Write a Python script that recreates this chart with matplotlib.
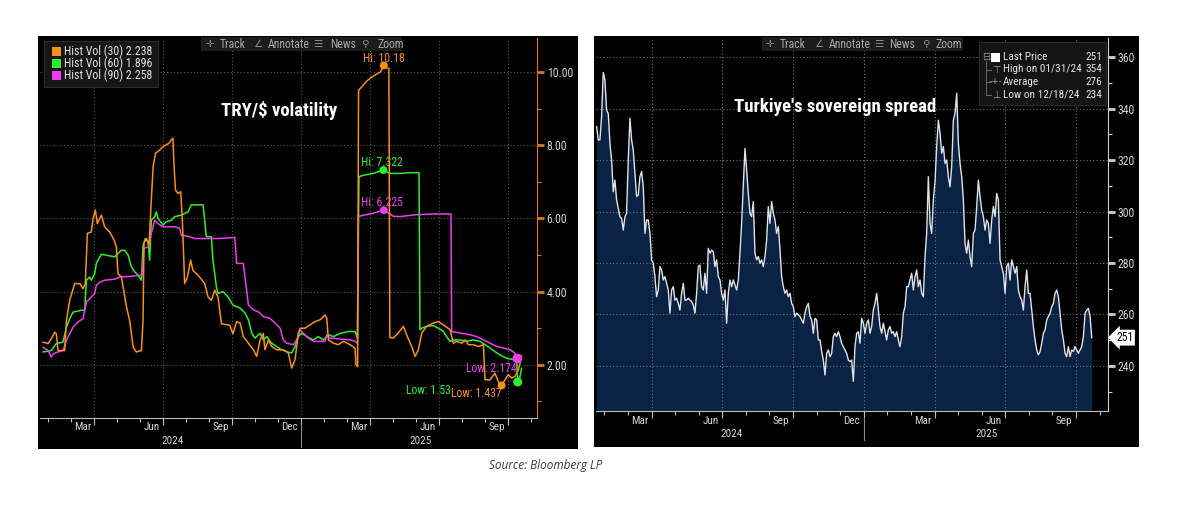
import numpy as np
import matplotlib
matplotlib.use("Agg")
import matplotlib.pyplot as plt
from matplotlib import font_manager
from matplotlib.patches import Rectangle
from matplotlib.lines import Line2D
from matplotlib.transforms import blended_transform_factory as blend

# ---- left chart: TRY/$ historical volatility (x = months since 1 Jan 2024) ----
vol30_t = [0.78, 1.00, 1.14, 1.29, 1.36, 1.43, 1.72, 1.80, 1.94, 2.16,
           2.38, 2.52, 2.62, 2.71, 2.88, 2.96, 3.06, 3.14, 3.32, 3.46,
           3.68, 3.87, 3.97, 4.04, 4.19, 4.41, 4.55, 4.70, 4.84, 5.06,
           5.13, 5.17, 5.28, 5.39, 5.49, 5.57, 5.67, 5.86, 6.00, 6.14,
           6.25, 6.36, 6.43, 6.48, 6.54, 6.65, 6.77, 6.84, 6.94, 7.06,
           7.20, 7.30, 7.45, 7.64, 7.81, 7.96, 8.10, 8.25, 8.39, 8.54,
           8.90, 9.04, 9.20, 9.35, 9.49, 9.71, 9.93, 10.07, 10.22, 10.36,
           10.43, 10.58, 10.72, 10.94, 11.23, 11.45, 11.59, 11.74, 11.88, 11.96,
           12.17, 12.39, 12.61, 12.83, 13.04, 13.12, 13.19, 13.41, 13.62, 13.84,
           14.13, 14.35, 14.39, 14.46, 14.50, 14.65, 14.85, 15.05, 15.25, 15.45,
           15.60, 15.72, 15.82, 15.86, 16.01, 16.23, 16.45, 16.59, 16.81, 16.96,
           17.10, 17.25, 17.46, 17.75, 17.97, 18.19, 18.48, 18.62, 18.77, 18.99,
           19.13, 19.28, 19.49, 19.71, 19.93, 20.00, 20.22, 20.43, 20.58, 20.72,
           20.87, 21.01, 21.16, 21.30, 21.45, 21.59]
vol30 = [2.62, 2.58, 2.71, 2.89, 2.85, 2.39, 2.39, 3.21, 3.76, 4.22,
         4.22, 4.08, 4.22, 5.59, 5.63, 6.00, 6.23, 5.86, 6.09, 5.77,
         5.63, 5.41, 5.22, 4.49, 4.40, 3.58, 3.21, 2.48, 2.35, 2.39,
         3.21, 5.32, 5.45, 5.27, 6.50, 7.42, 7.78, 7.87, 7.96, 8.01,
         8.05, 8.15, 8.19, 7.42, 6.78, 6.68, 6.73, 5.95, 4.22, 4.40,
         4.86, 4.58, 4.49, 4.36, 4.22, 3.85, 3.76, 4.04, 3.85, 3.12,
         3.08, 2.85, 3.18, 3.14, 2.77, 2.59, 2.41, 2.23, 2.68, 2.86,
         2.41, 2.68, 2.50, 2.41, 2.41, 2.32, 1.91, 2.14, 2.86, 3.00,
         3.00, 3.09, 3.18, 3.23, 3.36, 3.27, 2.68, 2.59, 2.55, 2.64,
         2.55, 2.45, 2.00, 1.95, 9.50, 9.60, 9.75, 9.85, 9.93, 10.00,
         10.18, 10.12, 10.10, 2.75, 2.73, 2.87, 3.05, 2.82, 2.50, 2.23,
         2.41, 2.87, 3.05, 3.14, 3.18, 3.09, 2.96, 2.59, 2.64, 2.59,
         2.68, 2.55, 2.55, 2.50, 2.55, 1.59, 1.59, 1.77, 1.54, 1.44,
         1.59, 1.73, 1.64, 1.68, 1.86, 2.24]

vol60_t = [0.78, 1.14, 1.36, 1.65, 1.80, 1.94, 2.09, 2.45, 2.59, 2.67,
           2.81, 2.88, 3.03, 3.10, 3.25, 3.32, 3.90, 4.04, 4.19, 4.33,
           4.48, 4.62, 4.77, 4.91, 5.06, 5.13, 5.23, 5.35, 5.42, 5.49,
           5.64, 5.71, 5.78, 6.00, 6.14, 6.36, 6.51, 6.80, 7.09, 7.23,
           7.52, 7.74, 7.81, 7.88, 8.10, 8.17, 8.32, 8.39, 8.61, 8.83,
           9.04, 9.35, 9.57, 9.71, 9.86, 10.00, 10.22, 10.36, 10.51, 10.72,
           10.94, 11.16, 11.38, 11.59, 11.74, 11.88, 12.03, 12.25, 12.54, 12.75,
           12.97, 13.19, 13.41, 13.70, 14.06, 14.35, 14.45, 14.52, 14.71, 15.14,
           15.58, 15.87, 16.30, 16.80, 17.13, 17.17, 17.25, 17.46, 17.75, 17.97,
           18.19, 18.33, 18.48, 18.70, 18.91, 19.20, 19.49, 19.78, 20.00, 20.22,
           20.43, 20.65, 20.94, 21.23, 21.38, 21.40, 21.42, 21.49, 21.59]
vol60 = [2.35, 2.39, 2.58, 2.62, 3.03, 3.26, 3.44, 3.49, 3.49, 4.31,
         4.40, 4.31, 4.49, 4.77, 4.95, 5.02, 4.95, 5.04, 5.13, 5.13,
         5.00, 4.68, 4.54, 4.45, 4.31, 5.27, 5.45, 5.36, 4.86, 5.95,
         6.05, 6.18, 6.00, 5.82, 5.91, 5.95, 6.05, 6.09, 6.18, 6.37,
         6.37, 6.37, 5.95, 5.50, 5.50, 4.86, 4.13, 3.95, 4.00, 3.85,
         3.63, 3.55, 3.41, 3.23, 2.86, 2.73, 2.86, 2.68, 2.77, 2.59,
         2.50, 2.41, 2.36, 2.32, 2.50, 2.77, 2.86, 2.77, 2.68, 2.77,
         2.68, 2.82, 2.77, 2.86, 2.91, 2.91, 2.73, 7.14, 7.18, 7.23,
         7.32, 7.23, 7.23, 7.25, 7.25, 2.96, 3.00, 3.05, 3.07, 3.00,
         2.91, 2.77, 2.64, 2.68, 2.68, 2.64, 2.68, 2.64, 2.55, 2.46,
         2.36, 2.27, 2.18, 2.14, 2.09, 1.80, 1.54, 1.59, 1.90]

vol90_t = [0.78, 1.00, 1.14, 1.22, 1.43, 1.65, 1.80, 1.94, 2.09, 2.30,
           2.52, 2.67, 2.74, 2.88, 3.03, 3.10, 3.25, 3.46, 3.90, 4.12,
           4.62, 5.09, 5.17, 5.35, 5.49, 5.64, 5.78, 6.00, 6.51, 6.72,
           6.80, 7.16, 7.38, 8.39, 9.12, 9.20, 9.49, 9.71, 9.93, 10.14,
           10.36, 10.65, 10.87, 11.09, 11.23, 11.38, 11.67, 11.81, 11.96, 12.10,
           12.32, 12.54, 13.04, 13.12, 13.26, 14.13, 14.35, 14.45, 14.49, 14.71,
           15.14, 15.58, 16.01, 16.30, 17.00, 17.80, 18.52, 18.55, 18.91, 19.35,
           19.64, 19.93, 20.22, 20.51, 20.80, 21.09, 21.30, 21.40, 21.52]
vol90 = [2.48, 2.39, 2.21, 2.30, 2.35, 2.39, 2.67, 2.85, 3.03, 3.17,
         3.26, 3.72, 3.76, 3.85, 3.95, 4.17, 4.26, 4.31, 4.34, 4.40,
         4.42, 4.45, 5.18, 5.22, 5.59, 5.95, 5.86, 5.77, 5.77, 5.73,
         5.54, 5.50, 5.45, 5.45, 5.48, 4.77, 4.77, 3.64, 3.50, 3.45,
         3.32, 3.27, 3.14, 3.00, 2.68, 2.59, 2.55, 2.68, 2.95, 2.86,
         2.73, 2.64, 2.64, 2.82, 2.73, 2.68, 2.64, 2.59, 6.05, 6.09,
         6.14, 6.23, 6.06, 6.05, 6.10, 6.12, 6.12, 2.91, 2.87, 2.82,
         2.77, 2.68, 2.59, 2.50, 2.46, 2.41, 2.32, 2.18, 2.26]

vol_labels = ['Hist Vol (30) 2.238', 'Hist Vol (60) 1.896', 'Hist Vol (90) 2.258']
hi_t = [15.60, 15.58, 15.60]
hi_v = [10.18, 7.322, 6.225]
lo_t = [20.72, 21.42, 21.40]
lo_v = [1.437, 1.53, 2.174]

# ---- right chart: Turkiye sovereign spread, bp, evenly spaced from late Jan 2024 ----
spread = [333.0, 327.8, 327.8, 336.8, 354.0, 351.0, 339.4, 338.0, 326.5, 320.0,
          307.7, 312.2, 304.5, 301.2, 298.0, 297.3, 292.8, 298.0, 299.3, 320.0,
          336.2, 327.8, 323.9, 314.8, 305.8, 306.4, 313.5, 315.5, 309.6, 291.5,
          296.7, 296.7, 291.5, 281.2, 279.9, 274.7, 266.9, 269.5, 278.6, 277.3,
          273.4, 274.7, 272.1, 269.5, 260.5, 269.5, 270.8, 265.6, 266.3, 264.3,
          261.7, 268.2, 272.1, 265.6, 265.6, 266.3, 265.6, 265.0, 263.7, 260.5,
          268.2, 278.6, 279.2, 270.8, 269.5, 276.0, 268.2, 285.7, 283.8, 285.0,
          284.4, 278.6, 281.2, 274.7, 273.4, 268.2, 265.6, 269.5, 256.6, 268.2,
          273.4, 270.8, 273.4, 271.5, 269.5, 273.4, 283.8, 295.4, 309.6, 324.5,
          316.1, 307.0, 299.3, 298.0, 303.8, 283.8, 281.2, 282.5, 279.9, 281.2,
          278.6, 282.5, 288.9, 301.9, 295.4, 303.8, 299.3, 296.7, 291.5, 294.1,
          285.0, 274.7, 270.8, 268.2, 269.5, 266.9, 268.2, 264.3, 263.0, 259.2,
          260.5, 259.8, 259.2, 257.9, 256.6, 260.5, 263.0, 264.3, 259.2, 257.9,
          252.7, 258.5, 257.9, 250.1, 250.1, 245.6, 242.3, 236.5, 244.9, 246.2,
          243.6, 244.9, 251.4, 252.7, 251.4, 253.3, 251.4, 248.8, 247.5, 246.2,
          244.9, 242.3, 241.7,
          242.3, 234.0, 247.5, 252.7, 253.3, 248.8, 258.5, 256.6, 252.7, 256.6,
          257.9, 252.7, 255.3, 261.7, 264.3, 268.2, 261.7, 255.3, 252.7, 256.6,
          253.3, 250.1, 254.0, 255.3, 252.7, 253.3, 251.4, 253.3, 250.1, 247.5,
          251.4, 260.5, 263.0, 270.8, 270.8, 273.4, 276.0, 269.5, 274.7, 277.3,
          270.8, 273.4, 268.2, 266.9, 282.5, 291.5, 313.5, 295.4, 291.5, 304.5,
          311.6, 325.2, 335.5, 330.4, 322.6, 325.2, 318.7, 320.0, 313.5, 309.6,
          317.4, 335.5, 338.1, 345.9, 326.5, 318.7, 313.5, 304.5, 287.6, 283.8,
          288.9, 282.5, 278.6, 291.5, 292.8, 301.9, 312.2, 305.8, 300.6, 298.0,
          292.8, 296.7, 295.4, 287.6, 296.7, 301.9, 298.0, 307.0, 304.5, 281.2,
          278.6, 276.0, 268.2, 278.6, 279.9, 273.4, 281.2, 278.6, 276.0, 278.6,
          269.5, 266.9, 265.6, 261.7, 270.8, 277.3, 268.2, 268.2, 261.7, 255.3,
          250.1, 246.2, 244.3, 245.6, 248.8, 252.7, 254.0, 257.9, 259.2, 260.5,
          263.0, 264.3, 268.2, 269.5, 266.9, 260.5, 254.0, 250.1, 244.9, 243.6,
          247.5, 243.6, 246.2, 245.6, 247.5, 246.2, 244.9, 246.2, 247.5, 251.4,
          260.5, 261.7, 262.4, 259.2, 251.0]
spread_start, spread_end = 0.665, 21.67
spread_stats = [('Last Price', '251'), ('High on 01/31/24', '354'),
                ('Average', '276'), ('Low on 12/18/24', '234')]

month_names = ['Mar', 'Jun', 'Sep', 'Dec', 'Mar', 'Jun', 'Sep']
month_pos = [2.5, 5.5, 8.5, 11.5, 14.5, 17.5, 20.5]
years = ['2024', '2025']
year_pos = [6.4, 17.2]

ORANGE, GREEN, MAGENTA = '#f7901e', '#2cf02c', '#f03cf0'
GREY = '#d4d4d4'

avail = {f.name for f in font_manager.fontManager.ttflist}
narrow = next((f for f in ['Liberation Sans Narrow', 'Roboto Condensed', 'DejaVu Sans'] if f in avail))
plt.rcParams['font.family'] = [narrow, 'DejaVu Sans']

W, H = 1199, 507
fig = plt.figure(figsize=(W / 100, H / 100), dpi=100)
fig.patch.set_facecolor('white')


def box(x0, y0, x1, y1):
    return [x0 / W, 1 - y1 / H, (x1 - x0) / W, (y1 - y0) / H]


def rect(x0, y0, x1, y1, fc, ec='none', z=-1):
    fig.add_artist(Rectangle((x0 / W, 1 - y1 / H), (x1 - x0) / W, (y1 - y0) / H,
                             transform=fig.transFigure, fc=fc, ec=ec, lw=0.8, zorder=z))


def ftext(x, y, s, **kw):
    kw.setdefault('va', 'center')
    kw.setdefault('zorder', 4)
    fig.text(x / W, 1 - y / H, s, **kw)


def fline(xs, ys, **kw):
    fig.add_artist(Line2D([x / W for x in xs], [1 - y / H for y in ys],
                          transform=fig.transFigure, zorder=4, **kw))


# black panels
rect(38, 36, 578, 449, 'black')
rect(594, 36, 1139, 447, 'black')


def setup(ax, xlim, ylim, major, minor, fmt, spine_col, grid_col):
    ax.set_facecolor('black')
    ax.set_xlim(xlim)
    ax.set_ylim(ylim)
    ax.yaxis.tick_right()
    ax.set_yticks(major)
    ax.set_yticks(minor, minor=True)
    ax.set_yticklabels([fmt.format(v) for v in major])
    ax.set_xticks(range(3, 22, 3))
    ax.set_xticks(range(1, 23), minor=True)
    ax.tick_params(axis='x', which='both', labelbottom=False, color='#bdbdbd', direction='out', width=0.8)
    ax.tick_params(axis='x', which='major', length=5)
    ax.tick_params(axis='x', which='minor', length=3)
    ax.tick_params(axis='y', which='major', length=5, width=2, color=spine_col,
                   labelcolor=GREY, labelsize=8.5, pad=2)
    ax.tick_params(axis='y', which='minor', length=3, width=0.8, color=spine_col)
    ax.spines[['left', 'top']].set_visible(False)
    ax.spines['right'].set_color(spine_col)
    ax.spines['bottom'].set_color('#bdbdbd')
    ax.grid(True, which='major', ls=(0, (1, 2)), lw=0.8, color=grid_col)
    tr = blend(ax.transData, ax.transAxes)
    h = ax.get_position().height * H
    for m, s in zip(month_pos, month_names):
        ax.text(m, -9.5 / h, s, transform=tr, ha='center', va='center', color=GREY, fontsize=8)
    for m, s in zip(year_pos, years):
        ax.text(m, -23 / h, s, transform=tr, ha='center', va='center', color=GREY, fontsize=8)
    ax.plot([12, 12], [-8 / h, -29 / h], transform=tr, color='#8c8c8c', lw=0.8, clip_on=False)


# ---- left panel ----
ax1 = fig.add_axes(box(40, 38, 537, 418))
setup(ax1, (0.65, 22.26), (0.546, 10.93), [2, 4, 6, 8, 10], [1, 3, 5, 7, 9],
      '{:.2f}', '#d9781f', '#5c5c5c')
ax1.plot(vol60_t, vol60, color=GREEN, lw=1.1, zorder=3)
ax1.plot(vol90_t, vol90, color=MAGENTA, lw=1.1, zorder=3)
ax1.plot(vol30_t, vol30, color=ORANGE, lw=1.1, zorder=3)
cols = [ORANGE, GREEN, MAGENTA]
ax1.scatter(hi_t, hi_v, s=22, c=cols, zorder=4)
ax1.scatter(lo_t, lo_v, s=[22, 30, 34], c=cols, zorder=4)
ax1.text(15.62, 10.37, 'Hi: 10.18', color=ORANGE, fontsize=8.5, ha='center', va='center', zorder=2)
ax1.text(15.50, 7.53, 'Hi: 7.322', color=GREEN, fontsize=8.5, ha='center', va='center', zorder=2)
ax1.text(15.52, 6.43, 'Hi: 6.225', color=MAGENTA, fontsize=8.5, ha='center', va='center', zorder=2)
ax1.text(21.38, 1.91, 'Low: 2.174', color=MAGENTA, fontsize=8.5, ha='right', va='center', zorder=2)
ax1.text(17.54, 1.31, 'Low: 1.53', color=GREEN, fontsize=8.5, ha='center', va='center', zorder=2)
ax1.text(19.60, 1.22, 'Low: 1.437', color=ORANGE, fontsize=8.5, ha='center', va='center', zorder=2)

# legend
rect(44, 41, 158, 87, '#161616', '#2a2a2a', z=2)
for i, (lab, c) in enumerate(zip(vol_labels, cols)):
    y = 51 + i * 12.3
    rect(52, y - 4.5, 61, y + 4.5, c, z=3)
    ftext(64.5, y, lab, color='#e2e2e2', fontsize=8.6)

# ---- right panel ----
ax2 = fig.add_axes(box(596, 38, 1108, 411))
setup(ax2, (0.64, 22.36), (222.5, 367.4), list(range(240, 361, 20)), list(range(230, 361, 20)),
      '{:d}', '#d0d0d0', '#6b7482')
ax2.set_axisbelow(False)
t_s = np.linspace(spread_start, spread_end, len(spread))
ax2.fill_between(t_s, spread, ax2.get_ylim()[0], color='#0a2244', lw=0, zorder=1)
ax2.plot(t_s, spread, color='#dfe3e8', lw=1.0, zorder=3)
ax2.text(1.016, float(spread_stats[0][1]), spread_stats[0][1], transform=blend(ax2.transAxes, ax2.transData),
         ha='left', va='center', color='black', fontsize=8.5,
         bbox=dict(boxstyle='larrow,pad=0.12', fc='white', ec='none'))

# stats legend
rect(979, 42, 1106, 105, '#141414', '#2a2a2a', z=2)
rows = [57, 69.5, 82, 94.5]
rect(991, 52.5, 1000, 61.5, 'white', z=3)
ftext(986, rows[0], '⊟', color='#9a9a9a', fontsize=7, ha='center', family='DejaVu Sans')
fline([986, 986], [61, rows[3]], color='#6a6a6a', lw=0.7)
for y in rows[1:]:
    fline([986, 991], [y, y], color='#6a6a6a', lw=0.7)
ftext(996, rows[1], '⊤', color='#9a9a9a', fontsize=7, ha='center', family='DejaVu Sans')
ftext(996, rows[2], '-+-', color='#9a9a9a', fontsize=6.5, ha='center', family='DejaVu Sans')
ftext(996, rows[3], '⊥', color='#9a9a9a', fontsize=7, ha='center', family='DejaVu Sans')
for (lab, val), y in zip(spread_stats, rows):
    ftext(1003, y, lab, color='#e2e2e2', fontsize=8.1)
    ftext(1102, y, val, color='#e2e2e2', fontsize=8.1, ha='right')

# toolbars
for x0, icons, words in [(201, [210, 258, 318, 365], [220, 268, 330, 377]),
                         (762, [770, 819, 879, 926], [780, 829, 889, 935])]:
    rect(x0, 37, x0 + 201, 51, '#1c1c1c', z=2)
    for xi, ic in zip(icons, ['✛', '∠', '☰', '⚲']):
        ftext(xi, 44, ic, color='#8a8a8a', fontsize=7.5, ha='center', family='DejaVu Sans')
    for xw, wd in zip(words, ['Track', 'Annotate', 'News', 'Zoom']):
        ftext(xw, 44, wd, color='#a8a8a8', fontsize=8.5, ha='left')

# titles and source
ftext(279.5, 110, 'TRY/$ volatility', color='white', fontsize=13.5, fontweight='bold', ha='center')
ftext(835, 107, "Turkiye's sovereign spread", color='white', fontsize=13.5, fontweight='bold', ha='center')
ftext(546, 465, 'Source: Bloomberg LP', color='#3a3a3a', fontsize=8.5, style='italic', ha='center',
      family='Open Sans')

fig.savefig('out.png', dpi=100, facecolor='white')
